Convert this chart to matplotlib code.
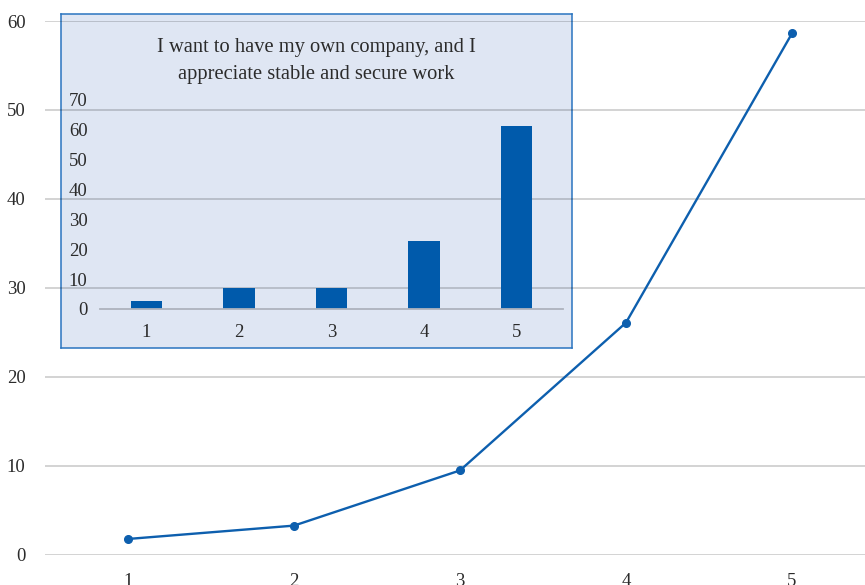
import matplotlib
matplotlib.use("Agg")
import matplotlib.pyplot as plt

plt.rcParams['font.family'] = ['Liberation Serif', 'DejaVu Serif']

# answer scale 1..5
categories = [1, 2, 3, 4, 5]
# cumulative share (line) and per-answer share (bars)
line_values = [1.8, 3.3, 9.5, 26.1, 58.6]
bar_values = [2.7, 7.0, 7.0, 22.7, 61.2]
inset_title = "I want to have my own company, and I\nappreciate stable and secure work"

blue = '#0d5fae'
text_col = '#2b2b2b'

fig = plt.figure(figsize=(8.65, 5.85), dpi=100)

# light blue box behind the inset (drawn first so the main grid shows over it)
box = fig.add_axes([0.0705, 0.405, 0.5908, 0.571], zorder=0)
box.set_xticks([])
box.set_yticks([])
box.set_facecolor('#dfe6f3')
for s in box.spines.values():
    s.set_color('#2a74c0')
    s.set_linewidth(1.1)
box.text(0.5, 0.86, inset_title, transform=box.transAxes, ha='center',
         va='center', fontsize=14.8, color=text_col, linespacing=1.55)

# main line chart
ax = fig.add_axes([0.052, 0.0513, 0.948, 0.9128], zorder=1)
ax.patch.set_alpha(0)
ax.plot(categories, line_values, color=blue, lw=1.7, marker='o', ms=5.5,
        clip_on=False, zorder=3)
ax.set_xlim(0.5, 5.44)
ax.set_ylim(0, 60)
ax.set_yticks(range(0, 61, 10))
ax.set_xticks(categories)
ax.grid(axis='y', color='black', alpha=0.22, lw=1.1)
ax.set_axisbelow(True)
for s in ax.spines.values():
    s.set_visible(False)
ax.tick_params(length=0, labelsize=13.5, labelcolor=text_col)
ax.tick_params(axis='y', pad=14)
ax.tick_params(axis='x', pad=13)

# inset bar chart
ins = fig.add_axes([0.1156, 0.4718, 0.5353, 0.3578], zorder=2)
ins.patch.set_alpha(0)
ins.bar(categories, bar_values, width=0.34, color='#005aab')
ins.set_xlim(0.5, 5.5)
ins.set_ylim(0, 70)
ins.set_yticks(range(0, 71, 10))
ins.set_xticks(categories)
for side in ['left', 'right', 'top']:
    ins.spines[side].set_visible(False)
ins.spines['bottom'].set_color('#aeb3bd')
ins.spines['bottom'].set_linewidth(1.3)
ins.tick_params(length=0, labelsize=13.5, labelcolor=text_col)
ins.tick_params(axis='y', pad=9)
ins.tick_params(axis='x', pad=11)

fig.savefig('out.png', dpi=100)
